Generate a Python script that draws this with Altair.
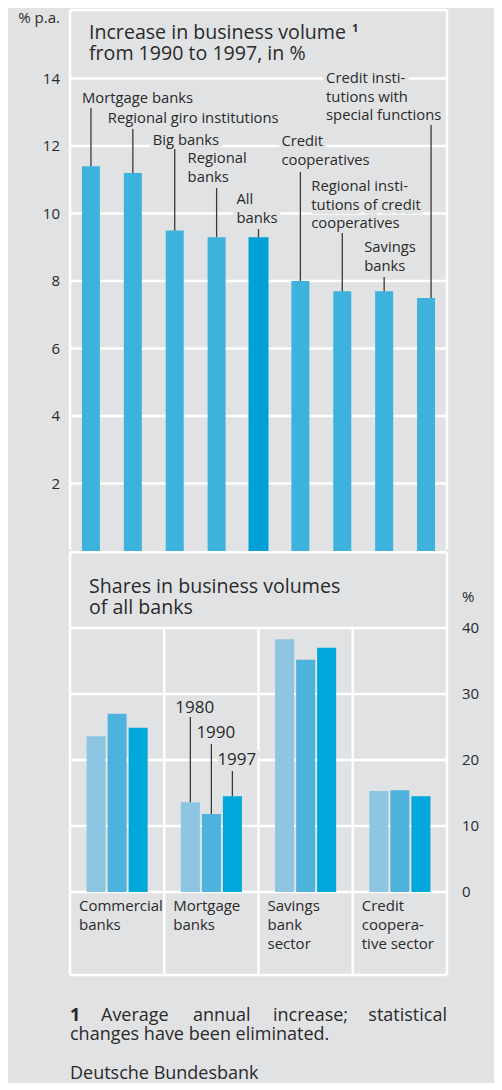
import altair as alt
import pandas as pd

BG = "#e1e2e4"
TXT = "#2a2a2a"
LEAD = "#3a3a3a"
WHITE = "#ffffff"
FONT = "Open Sans"

# ---------------- data ----------------
top_categories = ["Mortgage banks", "Regional giro institutions", "Big banks", "Regional banks",
                  "All banks", "Credit cooperatives", "Regional institutions of credit cooperatives",
                  "Savings banks", "Credit institutions with special functions"]
top_values = [11.4, 11.2, 9.5, 9.3, 9.3, 8.0, 7.7, 7.7, 7.5]
top_label_lines = [["Mortgage banks"], ["Regional giro institutions"], ["Big banks"],
                   ["Regional", "banks"], ["All", "banks"], ["Credit", "cooperatives"],
                   ["Regional insti-", "tutions of credit", "cooperatives"],
                   ["Savings", "banks"], ["Credit insti-", "tutions with", "special functions"]]

group_categories = ["Commercial banks", "Mortgage banks", "Savings bank sector", "Credit cooperative sector"]
group_label_lines = [["Commercial", "banks"], ["Mortgage", "banks"], ["Savings", "bank", "sector"],
                     ["Credit", "coopera-", "tive sector"]]
years = ["1980", "1990", "1997"]
shares_1980 = [23.6, 13.6, 38.3, 15.3]
shares_1990 = [27.0, 11.8, 35.2, 15.4]
shares_1997 = [24.9, 14.5, 37.0, 14.5]

top_ticks = [2, 4, 6, 8, 10, 12, 14]
bottom_ticks = [0, 10, 20, 30, 40]

# ---------------- layout (chart pixels; page = chart + 8) ----------------
CW = 486                     # chart width
TOP_H, BOT_H = 543, 531      # heights of the two stacked panels
FX0, FX1 = 62, 439           # frame left / right
TOP_ZERO, TOP_PX = 543, 33.75     # zero line (y in top panel), px per unit
BOT_ZERO, BOT_PX = 341, 6.6       # zero line (y in bottom panel), px per unit
FRAME_BOTTOM = 424
GRID_W = 2.5
HALF_STEP = (FX1 - FX0) / len(top_categories) / 2


def tu(page_y):
    return (TOP_ZERO + 8 - page_y) / TOP_PX


def bu(page_y):
    return (BOT_ZERO + 551 - page_y) / BOT_PX


# label placement relative to bar centre: (dx px, first line page y, leader top page y, leader dx px)
top_label_layout = [(-9, 99, 108, 0), (-25, 119, 129, 0), (-22, 141, 149, 0), (-29, 159, 188, 0),
                    (-22, 200, 229, 0), (-19, 142, 172, 0), (-31, 187, 233, 0), (-20, 248, 277, 0),
                    (-100, 79, 125, 5)]
LH = 18.5
year_label_layout = [(708, 717), (733, 744), (760, 771)]
group_label_top = 906
GLH = 19

C_TOP = "#3db2dc"
C_ALL = "#009fd6"
C_YEARS = ["#8ec5e2", "#4db3dc", "#00a7db"]

txt_kw = dict(font=FONT, align="left", baseline="middle")


def free(t, x, y, size, align="left", weight="normal"):
    return alt.Chart(pd.DataFrame({"t": [t]})).mark_text(
        font=FONT, fontSize=size, align=align, baseline="middle", color=TXT, fontWeight=weight
    ).encode(x=alt.value(x), y=alt.value(y), text="t:N")


def hline(y, x0=FX0, x1=FX1):
    return alt.Chart(pd.DataFrame({"a": [0]})).mark_rule(color=WHITE, strokeWidth=GRID_W).encode(
        x=alt.value(x0), x2=alt.value(x1), y=alt.value(y))


def vline(x, y0, y1):
    return alt.Chart(pd.DataFrame({"a": [0]})).mark_rule(color=WHITE, strokeWidth=GRID_W).encode(
        x=alt.value(x), y=alt.value(y0), y2=alt.value(y1))


# ---------------- top panel ----------------
df_top = pd.DataFrame({"cat": top_categories, "v": top_values})
xs_top = alt.Scale(domain=top_categories, range=[FX0, FX1], paddingInner=0, paddingOuter=0)
ys_top = alt.Scale(domain=[0, 14], range=[TOP_ZERO, TOP_ZERO - 14 * TOP_PX], nice=False, zero=False)
X_top = alt.X("cat:N", scale=xs_top, axis=None)

df_tt = pd.DataFrame({"v": top_ticks, "lab": [str(t) for t in top_ticks]})
grid_top = alt.Chart(df_tt).mark_rule(color=WHITE, strokeWidth=GRID_W).encode(
    y=alt.Y("v:Q", scale=ys_top, axis=None), x=alt.value(FX0), x2=alt.value(FX1))
ticklab_top = alt.Chart(df_tt).mark_text(font=FONT, fontSize=15, color=TXT, align="right",
                                         baseline="middle").encode(
    y=alt.Y("v:Q", scale=ys_top, axis=None), x=alt.value(FX0 - 10), text="lab:N")

bars = alt.Chart(df_top).transform_filter(alt.datum.cat != "All banks").mark_bar(size=18, color=C_TOP).encode(
    x=X_top, y=alt.Y("v:Q", scale=ys_top, axis=None), y2=alt.datum(0))
bar_all = alt.Chart(df_top).transform_filter(alt.datum.cat == "All banks").mark_bar(size=20, color=C_ALL).encode(
    x=X_top, y=alt.Y("v:Q", scale=ys_top, axis=None), y2=alt.datum(0))

lab_rows, lead_rows = [], []
for cat, lines, (dx, y0, ly, ldx), v in zip(top_categories, top_label_lines, top_label_layout, top_values):
    for k, line in enumerate(lines):
        lab_rows.append({"cat": cat, "t": line, "dx": dx + HALF_STEP, "y": tu(y0 + k * LH)})
    lead_rows.append({"cat": cat, "dx": ldx + HALF_STEP, "y": tu(ly), "v": v})
df_lab = pd.DataFrame(lab_rows)
df_lead = pd.DataFrame(lead_rows)

XO_none = alt.XOffset("dx:Q", scale=None)
halo_top = alt.Chart(df_lab).mark_text(fontSize=14.8, fill=BG, stroke=BG, strokeWidth=8,
                                       strokeJoin="round", **txt_kw).encode(
    x=X_top, xOffset=XO_none, y=alt.Y("y:Q", scale=ys_top, axis=None), text="t:N")
lead_top = alt.Chart(df_lead).mark_rule(color=LEAD, strokeWidth=1.3).encode(
    x=X_top, xOffset=XO_none, y=alt.Y("y:Q", scale=ys_top, axis=None), y2="v:Q")
text_top = alt.Chart(df_lab).mark_text(fontSize=14.8, color=TXT, **txt_kw).encode(
    x=X_top, xOffset=XO_none, y=alt.Y("y:Q", scale=ys_top, axis=None), text="t:N")

top_panel = alt.layer(
    hline(2), vline(FX0, 2, TOP_H - 1.5), vline(FX1, 2, TOP_H - 1.5),
    grid_top, ticklab_top, bars, bar_all, halo_top, lead_top, text_top,
    free("Increase in business volume", 81, 25, 19.6),
    free("1", 344, 21, 11, weight="bold"),
    free("from 1990 to 1997, in %", 81, 46, 19.6),
    free("% p.a.", FX0 - 10, 10, 15, align="right"),
).properties(width=CW, height=TOP_H)

# ---------------- bottom panel ----------------
rows = []
for g, a, b, c in zip(group_categories, shares_1980, shares_1990, shares_1997):
    for yr, v in zip(years, [a, b, c]):
        rows.append({"grp": g, "year": yr, "v": v})
df_bot = pd.DataFrame(rows)

xs_bot = alt.Scale(domain=group_categories, range=[FX0, FX1], paddingInner=0, paddingOuter=0)
ys_bot = alt.Scale(domain=[0, 40], range=[BOT_ZERO, BOT_ZERO - 40 * BOT_PX], nice=False, zero=False)
xo_bot = alt.Scale(domain=years, paddingInner=0.095, paddingOuter=0.79)
X_bot = alt.X("grp:N", scale=xs_bot, axis=None)
XO_bot = alt.XOffset("year:N", scale=xo_bot)

df_bt = pd.DataFrame({"v": bottom_ticks, "lab": [str(t) for t in bottom_ticks]})
grid_bot = alt.Chart(df_bt).mark_rule(color=WHITE, strokeWidth=GRID_W).encode(
    y=alt.Y("v:Q", scale=ys_bot, axis=None), x=alt.value(FX0), x2=alt.value(FX1))
ticklab_bot = alt.Chart(df_bt).mark_text(font=FONT, fontSize=15, color=TXT, align="left",
                                         baseline="middle").encode(
    y=alt.Y("v:Q", scale=ys_bot, axis=None), x=alt.value(FX1 + 15), text="lab:N")

sep = alt.Chart(pd.DataFrame({"grp": group_categories[1:], "top": [bottom_ticks[-1]] * 3})).mark_rule(
    color=WHITE, strokeWidth=GRID_W).encode(
    x=alt.X("grp:N", scale=xs_bot, axis=None, bandPosition=0),
    y=alt.Y("top:Q", scale=ys_bot, axis=None), y2=alt.value(FRAME_BOTTOM))

bars_bot = alt.Chart(df_bot).mark_bar().encode(
    x=X_bot, xOffset=XO_bot,
    y=alt.Y("v:Q", scale=ys_bot, axis=None),
    y2=alt.datum(0),
    color=alt.Color("year:N", scale=alt.Scale(domain=years, range=C_YEARS), legend=None),
)

yl_rows, yld_rows = [], []
mort = group_categories[1]
mort_vals = [shares_1980[1], shares_1990[1], shares_1997[1]]
for yr, (ty, ly), v in zip(years, year_label_layout, mort_vals):
    yl_rows.append({"grp": mort, "year": yr, "y": bu(ty)})
    yld_rows.append({"grp": mort, "year": yr, "y": bu(ly), "v": v})
df_yl = pd.DataFrame(yl_rows)
df_yld = pd.DataFrame(yld_rows)

halo_year = alt.Chart(df_yl).mark_text(fontSize=17, dx=-15, fill=BG, stroke=BG, strokeWidth=8,
                                       strokeJoin="round", **txt_kw).encode(
    x=X_bot, xOffset=XO_bot, y=alt.Y("y:Q", scale=ys_bot, axis=None), text="year:N")
lead_year = alt.Chart(df_yld).mark_rule(color=LEAD, strokeWidth=1.3).encode(
    x=X_bot, xOffset=XO_bot, y=alt.Y("y:Q", scale=ys_bot, axis=None), y2="v:Q")
text_year = alt.Chart(df_yl).mark_text(fontSize=17, dx=-15, color=TXT, **txt_kw).encode(
    x=X_bot, xOffset=XO_bot, y=alt.Y("y:Q", scale=ys_bot, axis=None), text="year:N")

gl_rows = []
for g, lines in zip(group_categories, group_label_lines):
    for k, line in enumerate(lines):
        gl_rows.append({"grp": g, "t": line, "y": bu(group_label_top + k * GLH)})
df_gl = pd.DataFrame(gl_rows)
text_grp = alt.Chart(df_gl).mark_text(fontSize=15, dx=9, color=TXT, **txt_kw).encode(
    x=alt.X("grp:N", scale=xs_bot, axis=None, bandPosition=0),
    y=alt.Y("y:Q", scale=ys_bot, axis=None), text="t:N")

bottom_panel = alt.layer(
    hline(1.3), hline(FRAME_BOTTOM), vline(FX0, 1.3, FRAME_BOTTOM), vline(FX1, 1.3, FRAME_BOTTOM),
    grid_bot, ticklab_bot, sep, bars_bot, halo_year, lead_year, text_year, text_grp,
    free("Shares in business volumes", 81, 36, 19.6),
    free("of all banks", 81, 57, 19.6),
    free("%", FX1 + 15, 46, 15),
    free("1", FX0, 465, 18, weight="bold"),
    free("Average", 93, 465, 18),
    free("annual", 185, 465, 18),
    free("increase;", 265, 465, 18),
    free("statistical", FX1, 465, 18, align="right"),
    free("changes have been eliminated.", FX0, 484, 18),
    free("Deutsche Bundesbank", FX0, 523, 18),
).properties(width=CW, height=BOT_H)

chart = alt.vconcat(top_panel, bottom_panel, spacing=0).properties(
    padding=0,
    background=BG,
).configure_view(stroke="transparent", strokeWidth=0)

chart.save("out.html", embed_options={"renderer": "svg", "actions": False})
